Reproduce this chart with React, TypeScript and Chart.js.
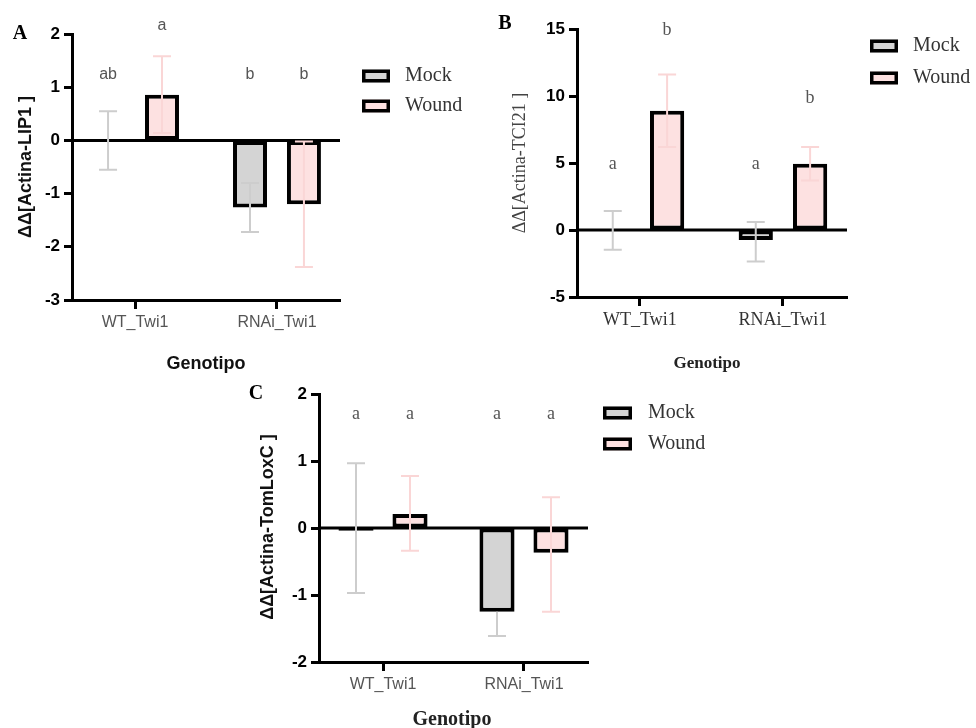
import React, { useEffect, useRef } from 'react';
import { Chart, registerables } from 'chart.js';

Chart.register(...registerables);

// ---------------- data ----------------
const categories = ['WT_Twi1', 'RNAi_Twi1'];
const seriesLabels = ['Mock', 'Wound'];

// Panel A: ΔΔ[Actina-LIP1 ]
const lip1YTicks = [-3, -2, -1, 0, 1, 2];
const lip1Mock = [0, -1.26];
const lip1Wound = [0.86, -1.2];
const lip1MockErr = [[0.55, 0.55], [0.46, 0.46]]; // [down, up]
const lip1WoundErr = [[0.72, 0.72], [1.18, 1.18]];
const lip1MockLetters = ['ab', 'b'];
const lip1WoundLetters = ['a', 'b'];
const lip1MockLetterY = [1.24, 1.23];
const lip1WoundLetterY = [2.16, 1.24];

// Panel B: ΔΔ[Actina-TCI21 ]
const tci21YTicks = [-5, 0, 5, 10, 15];
const tci21Mock = [-0.03, -0.75];
const tci21Wound = [8.9, 4.95];
const tci21MockErr = [[1.45, 1.45], [1.6, 1.35]];
const tci21WoundErr = [[2.7, 2.7], [1.25, 1.25]];
const tci21MockLetters = ['a', 'a'];
const tci21WoundLetters = ['b', 'b'];
const tci21MockLetterY = [4.9, 4.9];
const tci21WoundLetterY = [14.9, 9.85];

// Panel C: ΔΔ[Actina-TomLoxC ]
const loxYTicks = [-2, -1, 0, 1, 2];
const loxMock = [-0.04, -1.25];
const loxWound = [0.21, -0.37];
const loxMockErr = [[0.93, 1.01], [0.36, 0]];
const loxWoundErr = [[0.55, 0.57], [0.88, 0.83]];
const loxMockLetters = ['a', 'a'];
const loxWoundLetters = ['a', 'a'];
const loxMockLetterY = [1.7, 1.7];
const loxWoundLetterY = [1.7, 1.7];

// ---------------- styles ----------------
const SANS = '"Liberation Sans", Arial, Helvetica, sans-serif';
const SERIF = '"Liberation Serif", "Times New Roman", Times, serif';
const MOCK_FILL = '#d4d4d4';
const WOUND_FILL = '#fde1e1';
const MOCK_ERR = '#cdcdcd';
const WOUND_ERR = '#fad6d6';

type Panel = {
  id: string;
  left: number; top: number; width: number; height: number;
  area: { l: number; t: number; r: number; b: number };
  xMin: number; xMax: number;
  catPct: number; barPct: number;
  yTicks: number[];
  mock: number[]; wound: number[];
  mockErr: number[][]; woundErr: number[][];
  mockLetters: string[]; woundLetters: string[];
  mockLetterY: number[]; woundLetterY: number[];
  letterFont: string; letterColor: string;
  panelLetter: { text: string; x: number; y: number };
  yTitle: { text: string; x: number; y: number; font: string; color: string };
  xTitle: { text: string; x: number; y: number; font: string; color: string };
  catFamily: string; catSize: number; catColor: string; catPad: number;
  legend: { boxX: number; textX: number; ys: number[]; boxW: number; boxH: number };
};

const panels: Panel[] = [
  {
    id: 'A', left: 0, top: 0, width: 490, height: 380,
    area: { l: 72, t: 34, r: 340, b: 300 },
    xMin: -0.444, xMax: 1.444, catPct: 0.76, barPct: 0.63,
    yTicks: lip1YTicks, mock: lip1Mock, wound: lip1Wound,
    mockErr: lip1MockErr, woundErr: lip1WoundErr,
    mockLetters: lip1MockLetters, woundLetters: lip1WoundLetters,
    mockLetterY: lip1MockLetterY, woundLetterY: lip1WoundLetterY,
    letterFont: `16px ${SANS}`, letterColor: '#555',
    panelLetter: { text: 'A', x: 20, y: 34 },
    yTitle: { text: 'ΔΔ[Actina-LIP1 ]', x: 26, y: 167, font: `bold 18px ${SANS}`, color: '#111' },
    xTitle: { text: 'Genotipo', x: 206, y: 364, font: `bold 18px ${SANS}`, color: '#111' },
    catFamily: SANS, catSize: 16, catColor: '#555', catPad: 4,
    legend: { boxX: 362, textX: 405, ys: [76, 106], boxW: 28, boxH: 13 },
  },
  {
    id: 'B', left: 490, top: 0, width: 486, height: 380,
    area: { l: 87, t: 29, r: 357, b: 297 },
    xMin: -0.44, xMax: 1.448, catPct: 0.76, barPct: 0.63,
    yTicks: tci21YTicks, mock: tci21Mock, wound: tci21Wound,
    mockErr: tci21MockErr, woundErr: tci21WoundErr,
    mockLetters: tci21MockLetters, woundLetters: tci21WoundLetters,
    mockLetterY: tci21MockLetterY, woundLetterY: tci21WoundLetterY,
    letterFont: `18px ${SERIF}`, letterColor: '#555',
    panelLetter: { text: 'B', x: 15, y: 24 },
    yTitle: { text: 'ΔΔ[Actina-TCI21 ]', x: 30, y: 163, font: `18px ${SERIF}`, color: '#444' },
    xTitle: { text: 'Genotipo', x: 217, y: 364, font: `bold 17px ${SERIF}`, color: '#222' },
    catFamily: SERIF, catSize: 18, catColor: '#333', catPad: 3,
    legend: { boxX: 380, textX: 423, ys: [46, 78], boxW: 28, boxH: 13 },
  },
  {
    id: 'C', left: 240, top: 380, width: 500, height: 348,
    area: { l: 79, t: 14, r: 348, b: 282 },
    xMin: -0.454, xMax: 1.454, catPct: 0.766, barPct: 0.65,
    yTicks: loxYTicks, mock: loxMock, wound: loxWound,
    mockErr: loxMockErr, woundErr: loxWoundErr,
    mockLetters: loxMockLetters, woundLetters: loxWoundLetters,
    mockLetterY: loxMockLetterY, woundLetterY: loxWoundLetterY,
    letterFont: `18px ${SERIF}`, letterColor: '#555',
    panelLetter: { text: 'C', x: 16, y: 14 },
    yTitle: { text: 'ΔΔ[Actina-TomLoxC ]', x: 28, y: 147, font: `bold 18px ${SANS}`, color: '#111' },
    xTitle: { text: 'Genotipo', x: 212, y: 340, font: `bold 20px ${SERIF}`, color: '#222' },
    catFamily: SANS, catSize: 16, catColor: '#555', catPad: 4,
    legend: { boxX: 363, textX: 408, ys: [33, 64], boxW: 29, boxH: 13 },
  },
];

function makeDecor(p: Panel) {
  return {
    id: 'decor' + p.id,
    beforeDatasetsDraw(chart: any) {
      const { ctx, chartArea, scales } = chart;
      const y0 = scales.y.getPixelForValue(0);
      ctx.save();
      ctx.strokeStyle = '#000';
      ctx.lineWidth = 3;
      ctx.beginPath();
      ctx.moveTo(chartArea.left, y0);
      ctx.lineTo(chartArea.right, y0);
      ctx.stroke();
      ctx.restore();
    },
    afterDatasetsDraw(chart: any) {
      const { ctx, scales } = chart;
      const ys = scales.y;
      const errs = [p.mockErr, p.woundErr];
      const values = [p.mock, p.wound];
      const colors = [MOCK_ERR, WOUND_ERR];
      const letters = [p.mockLetters, p.woundLetters];
      const letterY = [p.mockLetterY, p.woundLetterY];
      const cap = 9;
      ctx.save();
      for (let d = 0; d < 2; d++) {
        const meta = chart.getDatasetMeta(d);
        meta.data.forEach((el: any, j: number) => {
          const v = values[d][j];
          const [dn, up] = errs[d][j];
          const x = el.x;
          const yv = ys.getPixelForValue(v);
          ctx.strokeStyle = colors[d];
          ctx.lineWidth = 2;
          ctx.beginPath();
          if (up > 0) {
            const yu = ys.getPixelForValue(v + up);
            ctx.moveTo(x, yv); ctx.lineTo(x, yu);
            ctx.moveTo(x - cap, yu); ctx.lineTo(x + cap, yu);
          }
          if (dn > 0) {
            const yd = ys.getPixelForValue(v - dn);
            ctx.moveTo(x, yv); ctx.lineTo(x, yd);
            ctx.moveTo(x - cap, yd); ctx.lineTo(x + cap, yd);
          }
          ctx.stroke();
          // significance letters
          ctx.fillStyle = p.letterColor;
          ctx.font = p.letterFont;
          ctx.textAlign = 'center';
          ctx.textBaseline = 'middle';
          ctx.fillText(letters[d][j], x, ys.getPixelForValue(letterY[d][j]));
        });
      }
      ctx.restore();
    },
    afterDraw(chart: any) {
      const { ctx } = chart;
      ctx.save();
      // panel letter
      ctx.fillStyle = '#000';
      ctx.font = `bold 20px ${SERIF}`;
      ctx.textAlign = 'center';
      ctx.textBaseline = 'middle';
      ctx.fillText(p.panelLetter.text, p.panelLetter.x, p.panelLetter.y);
      // x title
      ctx.fillStyle = p.xTitle.color;
      ctx.font = p.xTitle.font;
      ctx.fillText(p.xTitle.text, p.xTitle.x, p.xTitle.y);
      // y title
      ctx.save();
      ctx.translate(p.yTitle.x, p.yTitle.y);
      ctx.rotate(-Math.PI / 2);
      ctx.fillStyle = p.yTitle.color;
      ctx.font = p.yTitle.font;
      ctx.fillText(p.yTitle.text, 0, 0);
      ctx.restore();
      // legend
      const fills = [MOCK_FILL, WOUND_FILL];
      const L = p.legend;
      for (let i = 0; i < seriesLabels.length; i++) {
        const cy = L.ys[i];
        const top = cy - L.boxH / 2;
        ctx.fillStyle = fills[i];
        ctx.fillRect(L.boxX, top, L.boxW, L.boxH);
        ctx.strokeStyle = '#000';
        ctx.lineWidth = 3.5;
        ctx.strokeRect(L.boxX + 1.75, top + 1.75, L.boxW - 3.5, L.boxH - 3.5);
        ctx.fillStyle = '#333';
        ctx.font = `20px ${SERIF}`;
        ctx.textAlign = 'left';
        ctx.textBaseline = 'middle';
        ctx.fillText(seriesLabels[i], L.textX, cy);
      }
      ctx.restore();
    },
  };
}

function PanelChart({ p }: { p: Panel }) {
  const ref = useRef<HTMLCanvasElement>(null);
  useEffect(() => {
    if (!ref.current) return;
    const yMin = p.yTicks[0];
    const yMax = p.yTicks[p.yTicks.length - 1];
    const step = p.yTicks[1] - p.yTicks[0];
    const chart = new Chart(ref.current, {
      type: 'bar',
      data: {
        datasets: [
          {
            label: seriesLabels[0],
            data: p.mock.map((y, i) => ({ x: i, y })),
            backgroundColor: MOCK_FILL,
            borderColor: '#000',
            borderWidth: 4,
            borderSkipped: false,
            categoryPercentage: p.catPct,
            barPercentage: p.barPct,
          },
          {
            label: seriesLabels[1],
            data: p.wound.map((y, i) => ({ x: i, y })),
            backgroundColor: WOUND_FILL,
            borderColor: '#000',
            borderWidth: 4,
            borderSkipped: false,
            categoryPercentage: p.catPct,
            barPercentage: p.barPct,
          },
        ],
      } as any,
      options: {
        responsive: false,
        devicePixelRatio: 1,
        animation: false,
        layout: { padding: { left: 0, top: p.area.t, right: p.width - p.area.r, bottom: 0 } },
        plugins: { legend: { display: false }, tooltip: { enabled: false }, title: { display: false } },
        scales: {
          x: {
            type: 'linear',
            min: p.xMin,
            max: p.xMax,
            offset: false,
            grid: {
              display: true,
              drawOnChartArea: false,
              drawTicks: true,
              tickLength: 9,
              tickWidth: 3,
              tickColor: '#000',
              offset: false,
            },
            border: { display: true, color: '#000', width: 3 },
            ticks: {
              autoSkip: false,
              maxRotation: 0,
              padding: p.catPad,
              color: p.catColor,
              font: { family: p.catFamily, size: p.catSize },
              callback: (v: any) => categories[v as number] ?? '',
            },
            afterBuildTicks: (scale: any) => {
              scale.ticks = categories.map((_, i) => ({ value: i }));
            },
            afterFit: (scale: any) => {
              scale.height = p.height - p.area.b;
            },
          },
          y: {
            type: 'linear',
            min: yMin,
            max: yMax,
            ticks: {
              stepSize: step,
              padding: 4,
              color: '#000',
              font: { family: SANS, size: 17, weight: 'bold' },
            },
            grid: {
              drawOnChartArea: false,
              drawTicks: true,
              tickLength: 8,
              tickWidth: 3,
              tickColor: '#000',
            },
            border: { display: true, color: '#000', width: 3 },
            afterFit: (scale: any) => {
              scale.width = p.area.l;
            },
          },
        },
      } as any,
      plugins: [makeDecor(p)],
    });
    return () => chart.destroy();
  }, []);
  return (
    <canvas
      ref={ref}
      width={p.width}
      height={p.height}
      style={{ position: 'absolute', left: p.left, top: p.top, width: p.width, height: p.height }}
    />
  );
}

export default function App() {
  return (
    <div
      style={{
        position: 'absolute',
        left: 0,
        top: 0,
        width: 976,
        height: 728,
        background: '#fff',
        overflow: 'hidden',
      }}
    >
      {panels.map((p) => (
        <PanelChart key={p.id} p={p} />
      ))}
    </div>
  );
}
